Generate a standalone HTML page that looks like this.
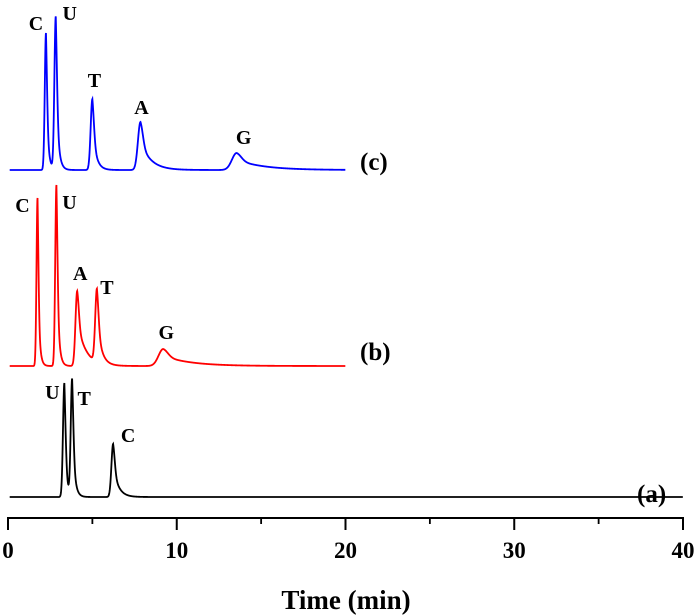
<!DOCTYPE html>
<html><head><meta charset="utf-8"><style>
html,body{margin:0;padding:0;background:#fff;}
svg{display:block;font-family:"Liberation Serif",serif;font-weight:bold;}
</style></head><body>
<svg id="chart" width="700" height="616" viewBox="0 0 700 616">
<g id="traces"></g>
<g id="axis"></g>
<text x="346" y="609" text-anchor="middle" font-size="27">Time (min)</text>
</svg>
<script>
// data
const xTicks = [0, 10, 20, 30, 40];
const minorTicks = [5, 15, 25, 35];
const seriesNames = ["(c)", "(b)", "(a)"];
const seriesColors = ["#0000ff", "#ff0000", "#000000"];
const seriesEnd = [20, 20, 40];
const baselines = [170, 366, 497];
// peaks: retention time, height (px), label
const peakLabelsC = ["C", "U", "T", "A", "G"];
const peakTimesC = [2.25, 2.83, 5.0, 7.85, 13.55];
const peakHeightsC = [137, 153, 71, 48, 17];
const peakLabelsB = ["C", "U", "A", "T", "G"];
const peakTimesB = [1.75, 2.87, 4.1, 5.27, 9.2];
const peakHeightsB = [168, 181, 75, 73, 17];
const peakLabelsA = ["U", "T", "C"];
const peakTimesA = [3.34, 3.8, 6.23];
const peakHeightsA = [114, 117, 53];
// peak shape (left sigma, right tail in min)
const sigL = [[0.07,0.08,0.1,0.15,0.28],[0.06,0.07,0.1,0.1,0.28],[0.08,0.08,0.1]];
const tailR = [[0.12,0.14,0.22,0.6,1.6],[0.1,0.12,0.5,0.25,1.6],[0.12,0.14,0.3]];

const NS="http://www.w3.org/2000/svg";
const xScale = t => 8 + t * 16.875;
const traces = document.getElementById('traces');
const axis = document.getElementById('axis');
function mk(tag, attrs, parent){const e=document.createElementNS(NS,tag);for(const k in attrs)e.setAttribute(k,attrs[k]);parent.appendChild(e);return e;}

const allTimes=[peakTimesC,peakTimesB,peakTimesA];
const allHeights=[peakHeightsC,peakHeightsB,peakHeightsA];
const allLabels=[peakLabelsC,peakLabelsB,peakLabelsA];
function shape(d, sl, tr){
  if(d<0) return Math.exp(-d*d/(2*sl*sl));
  const g=Math.exp(-d*d/(2*sl*sl));
  const e=Math.exp(-d/tr);
  return 0.4*g+0.6*e;
}
const labelOffsets=[[[-10,-3],[14,3],[2,-12],[1,-8],[7,-9]],[[-15,14],[13,24],[3,-11],[10,1],[3,-10]],[[-12,16],[12,25],[15,-2]]];
const nameTx=[360,360,637], nameTy=[170,360,502];
for(let s=0;s<3;s++){
  let d='';
  for(let t=0.1;t<=seriesEnd[s];t+=0.01){
    let y=0;
    allTimes[s].forEach((mu,i)=>{y+=allHeights[s][i]*shape(t-mu,sigL[s][i],tailR[s][i]);});
    d+=(d?'L':'M')+xScale(t).toFixed(2)+','+(baselines[s]-y).toFixed(2);
  }
  const p=mk('path',{d:d,fill:'none',stroke:seriesColors[s],'stroke-width':1.8},traces);
  
  
  allTimes[s].forEach((mu,i)=>{
    const o=labelOffsets[s][i];
    const tx=mk('text',{x:xScale(mu)+o[0],y:baselines[s]-allHeights[s][i]+o[1],'font-size':20,'text-anchor':'middle',fill:'#000'},traces);
    tx.textContent=allLabels[s][i];
    
    
  });
  const n=mk('text',{x:nameTx[s],y:nameTy[s],'font-size':25,fill:'#000'},traces);
  n.textContent=seriesNames[s];
  
  
}
const ax=mk('line',{x1:xScale(0),x2:xScale(40),y1:518,y2:518,stroke:'#000','stroke-width':2},axis);


xTicks.forEach(v=>{
  const l=mk('line',{x1:xScale(v),x2:xScale(v),y1:517,y2:530,stroke:'#000','stroke-width':2},axis);
  
  
  const t=mk('text',{x:xScale(v),y:558,'font-size':23,'text-anchor':'middle'},axis);
  t.textContent=v;
  
  
});
minorTicks.forEach(v=>{
  const l=mk('line',{x1:xScale(v),x2:xScale(v),y1:517,y2:524,stroke:'#000','stroke-width':1.8},axis);
  
  
});
</script>
</body></html>
